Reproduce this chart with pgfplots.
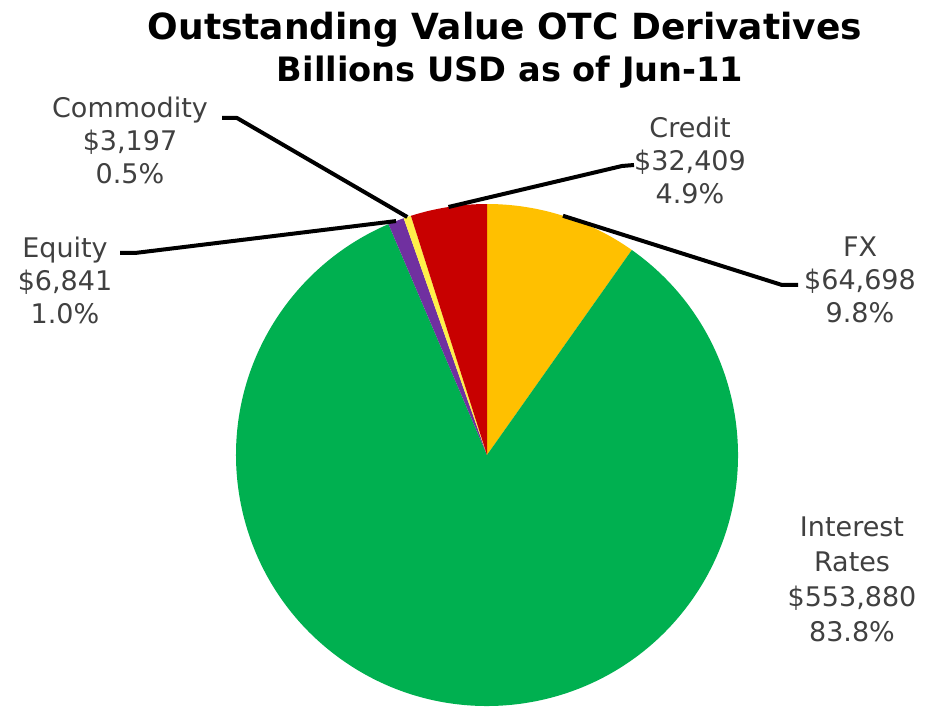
\documentclass[border=0pt]{standalone}
\usepackage{pgfplots}
\pgfplotsset{compat=1.18}
\usepackage{pgfplotstable}
\usepackage{fontspec}
\setmainfont{DejaVu Sans}
\definecolor{cFX}{HTML}{FFC000}
\definecolor{cIR}{HTML}{00B050}
\definecolor{cEq}{HTML}{7030A0}
\definecolor{cCo}{HTML}{FFF04A}
\definecolor{cCr}{HTML}{C80000}
\definecolor{labgray}{HTML}{404040}
\pgfplotstableread{
name value
FX 64698
InterestRates 553880
Equity 6841
Commodity 3197
Credit 32409
}\piedata
\begin{document}
\begin{tikzpicture}
\pgfplotstablegetelem{0}{value}\of\piedata \edef\vFX{\pgfplotsretval}
\pgfplotstablegetelem{1}{value}\of\piedata \edef\vIR{\pgfplotsretval}
\pgfplotstablegetelem{2}{value}\of\piedata \edef\vEq{\pgfplotsretval}
\pgfplotstablegetelem{3}{value}\of\piedata \edef\vCo{\pgfplotsretval}
\pgfplotstablegetelem{4}{value}\of\piedata \edef\vCr{\pgfplotsretval}
\pgfkeys{/pgf/fpu=true,/pgf/fpu/output format=fixed}
\pgfmathsetmacro\tot{\vFX+\vIR+\vEq+\vCo+\vCr}
\pgfmathsetmacro\aA{90-360*\vFX/\tot}
\pgfmathsetmacro\aB{\aA-360*\vIR/\tot}
\pgfmathsetmacro\aC{\aB-360*\vEq/\tot}
\pgfmathsetmacro\aD{\aC-360*\vCo/\tot}
\pgfmathsetmacro\aE{\aD-360*\vCr/\tot}
\pgfmathsetmacro\mFX{(90+\aA)/2}
\pgfmathsetmacro\mEq{(\aB+\aC)/2}
\pgfmathsetmacro\mCo{(\aC+\aD)/2}
\pgfmathsetmacro\mCr{(\aD+\aE)/2}
\pgfkeys{/pgf/fpu=false}
\begin{axis}[
  x=0.5pt, y=0.5pt,
  xmin=0, xmax=930, ymin=0, ymax=707,
  hide axis, clip=false,
]
\coordinate (bl) at (axis cs:0,0);
\coordinate (tr) at (axis cs:930,707);
% slices
\fill[cFX] (axis cs:487,252) -- (axis cs:{487+251*cos(90)},{252+251*sin(90)}) arc[start angle=90, end angle=\aA, radius=125.5pt] -- cycle;
\fill[cIR] (axis cs:487,252) -- (axis cs:{487+251*cos(\aA)},{252+251*sin(\aA)}) arc[start angle=\aA, end angle=\aB, radius=125.5pt] -- cycle;
\fill[cEq] (axis cs:487,252) -- (axis cs:{487+251*cos(\aB)},{252+251*sin(\aB)}) arc[start angle=\aB, end angle=\aC, radius=125.5pt] -- cycle;
\fill[cCo] (axis cs:487,252) -- (axis cs:{487+251*cos(\aC)},{252+251*sin(\aC)}) arc[start angle=\aC, end angle=\aD, radius=125.5pt] -- cycle;
\fill[cCr] (axis cs:487,252) -- (axis cs:{487+251*cos(\aD)},{252+251*sin(\aD)}) arc[start angle=\aD, end angle=\aE, radius=125.5pt] -- cycle;
% leader lines
\draw[line width=2pt, line join=round] (axis cs:222,589) -- (axis cs:237,589) -- (axis cs:{487+251*cos(\mCo)},{252+251*sin(\mCo)});
\draw[line width=2pt, line join=round] (axis cs:120,454) -- (axis cs:135,454) -- (axis cs:{487+251*cos(\mEq)},{252+251*sin(\mEq)});
\draw[line width=2pt, line join=round] (axis cs:634,542) -- (axis cs:622,541) -- (axis cs:{487+251*cos(\mCr)},{252+251*sin(\mCr)});
\draw[line width=2pt, line join=round] (axis cs:{487+251*cos(\mFX)},{252+251*sin(\mFX)}) -- (axis cs:782,422) -- (axis cs:798,422);
% titles
\node[font=\fontsize{18}{21}\selectfont\bfseries] at (axis cs:505,677) {Outstanding Value OTC Derivatives};
\node[font=\fontsize{16.8}{19}\selectfont\bfseries] at (axis cs:510,635) {Billions USD as of Jun-11};
% labels
\node[align=center, text=labgray, font=\fontsize{13.5}{16.5}\selectfont] at (axis cs:130,567) {Commodity\\\$3,197\\0.5\%};
\node[align=center, text=labgray, font=\fontsize{13.5}{16.5}\selectfont] at (axis cs:65,427) {Equity\\\$6,841\\1.0\%};
\node[align=center, text=labgray, font=\fontsize{13.5}{16.5}\selectfont] at (axis cs:690,547) {Credit\\\$32,409\\4.9\%};
\node[align=center, text=labgray, font=\fontsize{13.5}{16.5}\selectfont] at (axis cs:860,427) {FX\\\$64,698\\9.8\%};
\node[align=center, text=labgray, font=\fontsize{13.5}{17.5}\selectfont] at (axis cs:852,128) {Interest\\Rates\\\$553,880\\83.8\%};
\end{axis}
\pgfresetboundingbox
\path[use as bounding box] (bl) rectangle (tr);
\end{tikzpicture}
\end{document}
